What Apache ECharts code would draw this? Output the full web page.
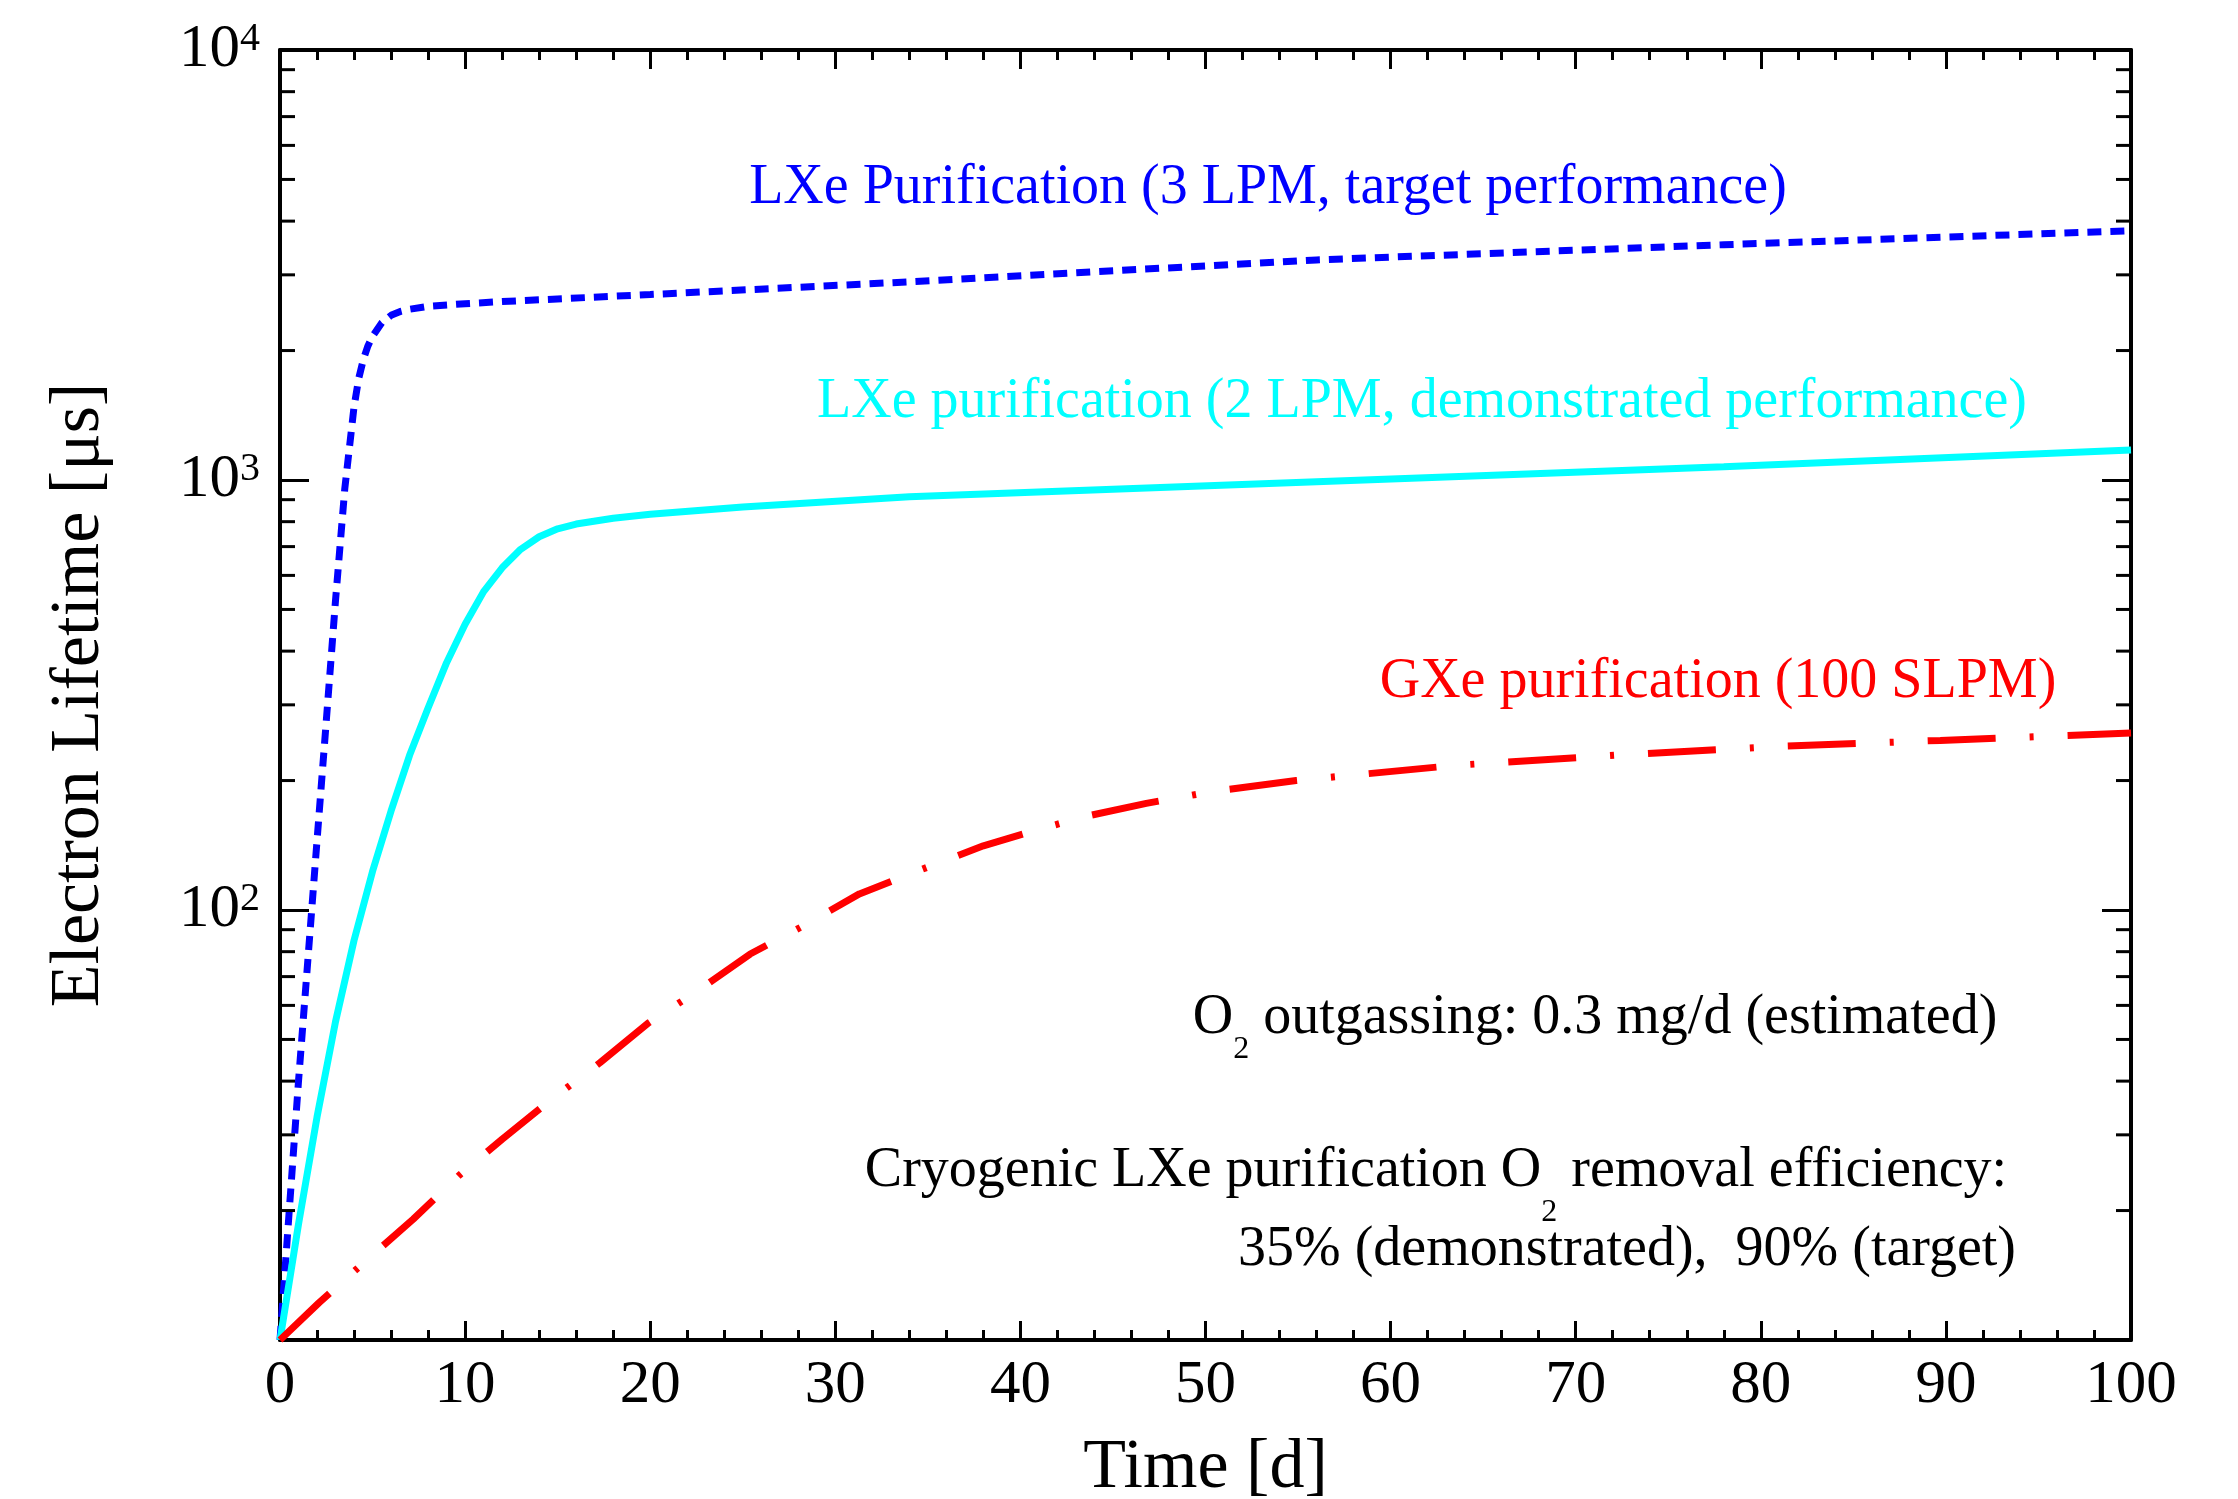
<!DOCTYPE html>
<html>
<head>
<meta charset="utf-8">
<script src="https://cdn.jsdelivr.net/npm/echarts@6/dist/echarts.min.js"></script>
<style>
html,body{margin:0;padding:0;background:#fff;}
#chart{width:2238px;height:1499px;}
</style>
</head>
<body>
<div id="chart"></div>
<script>
// ---- data ----
const timeTarget = [0, 0.5, 1, 1.5, 2, 2.5, 3, 3.5, 4, 4.25, 4.5, 4.75, 5, 5.5, 6, 6.5, 7, 8, 10, 12, 20, 34, 56, 78, 100];
const lifetimeTarget = [10, 20, 40, 76, 145, 275, 525, 955, 1480, 1720, 1905, 2050, 2160, 2320, 2415, 2465, 2495, 2535, 2570, 2600, 2700, 2890, 3250, 3525, 3800];

const timeDemo = [0, 1, 2, 3, 4, 5, 6, 7, 8, 9, 10, 11, 12, 13, 14, 15, 16, 18, 20, 25, 34, 56, 78, 100];
const lifetimeDemo = [10, 18.6, 33, 55, 85, 123, 170, 229, 295, 376, 462, 550, 625, 690, 738, 770, 790, 815, 832, 865, 914, 991, 1074, 1175];

const timeGXe = [0, 2.1, 4.8, 7.2, 9.7, 12, 14.6, 17.3, 19.9, 22.5, 25.4, 28.3, 31.3, 34.4, 38, 40.3, 43.5, 46.8, 50.5, 54.9, 63.5, 72.1, 80.9, 89.7, 100];
const lifetimeGXe = [10, 12.2, 15.5, 19.1, 24.2, 29.3, 36.1, 44.2, 54.6, 64.6, 79, 92, 109, 123, 141, 151, 165, 177, 189, 200, 217, 229, 240, 248, 258];

const xTickValues = [0, 10, 20, 30, 40, 50, 60, 70, 80, 90, 100];
const yMajorTicks = [10, 100, 1000, 10000];
const yMinorTicks = [20, 30, 40, 50, 60, 70, 80, 90, 200, 300, 400, 500, 600, 700, 800, 900, 2000, 3000, 4000, 5000, 6000, 7000, 8000, 9000];

const seriesNames = ['LXe Purification (3 LPM, target performance)',
                     'LXe purification (2 LPM, demonstrated performance)',
                     'GXe purification (100 SLPM)'];

const FF = '"Liberation Serif", "Times New Roman", serif';

function pairs(xs, ys) { return xs.map((x, i) => [x, ys[i]]); }

const chart = echarts.init(document.getElementById('chart'), null, {renderer: 'canvas'});

const axisLineStyle = {color: '#000', width: 4};
const xCommon = {
  type: 'value', min: xTickValues[0], max: xTickValues[xTickValues.length - 1], interval: 10,
  splitLine: {show: false},
  axisLine: {show: true, onZero: false, lineStyle: axisLineStyle},
  axisTick: {show: true, inside: true, length: 19, lineStyle: {color: '#000', width: 3}},
  minorTick: {show: true, splitNumber: 5, length: 10, lineStyle: {color: '#000', width: 3}},
  minorSplitLine: {show: false}
};
const yCommon = {
  type: 'log', logBase: 10, min: yMajorTicks[0], max: yMajorTicks[yMajorTicks.length - 1],
  splitLine: {show: false},
  axisLine: {show: true, onZero: false, lineStyle: axisLineStyle},
  axisTick: {show: true, inside: true, length: 29, lineStyle: {color: '#000', width: 3}},
  minorTick: {show: false}
};

const option = {
  animation: false,
  backgroundColor: '#fff',
  grid: {left: 280, right: 107, top: 50, bottom: 159, containLabel: false, outerBoundsMode: 'none'},
  xAxis: [
    Object.assign({}, xCommon, {
      position: 'bottom',
      name: 'Time [d]', nameLocation: 'middle', nameGap: 94,
      nameTextStyle: {fontFamily: FF, fontSize: 70, color: '#000'},
      axisLabel: {show: true, margin: 15, fontFamily: FF, fontSize: 61, color: '#000'}
    }),
    Object.assign({}, xCommon, {position: 'top', axisLabel: {show: false}})
  ],
  yAxis: [
    Object.assign({}, yCommon, {
      position: 'left',
      name: 'Electron Lifetime [μs]', nameLocation: 'middle', nameGap: 165,
      nameTextStyle: {fontFamily: FF, fontSize: 70, color: '#000'},
      axisLabel: {
        show: true, margin: 20, showMinLabel: false,
        formatter: function (v) { return '{b|10}{s|' + Math.round(Math.log10(v)) + '}'; },
        rich: {
          b: {fontFamily: FF, fontSize: 61, color: '#000', lineHeight: 61, verticalAlign: 'bottom'},
          s: {fontFamily: FF, fontSize: 40, color: '#000', lineHeight: 40, verticalAlign: 'top', padding: [0, 0, 38, 0]}
        }
      }
    }),
    Object.assign({}, yCommon, {position: 'right', axisLabel: {show: false}})
  ],
  series: [
    {
      name: seriesNames[0], type: 'line', xAxisIndex: 0, yAxisIndex: 0,
      data: pairs(timeTarget, lifetimeTarget),
      showSymbol: false, symbol: 'none', smooth: false,
      lineStyle: {color: '#0000ff', width: 7, type: [14, 9]}, z: 3
    },
    {
      name: seriesNames[1], type: 'line', xAxisIndex: 0, yAxisIndex: 0,
      data: pairs(timeDemo, lifetimeDemo),
      showSymbol: false, symbol: 'none', smooth: false,
      lineStyle: {color: '#00ffff', width: 7, type: 'solid'}, z: 3
    },
    {
      name: seriesNames[2], type: 'line', xAxisIndex: 0, yAxisIndex: 0,
      data: pairs(timeGXe, lifetimeGXe),
      showSymbol: false, symbol: 'none', smooth: false,
      lineStyle: {color: '#ff0000', width: 7, type: [68, 34, 4, 34]}, z: 3
    },
    {
      name: 'minorTicksY', type: 'custom', xAxisIndex: 0, yAxisIndex: 0, silent: true, z: 5,
      data: yMinorTicks.map(v => [xTickValues[0], v]),
      encode: {x: 0, y: 1},
      renderItem: function (params, api) {
        const v = api.value(1);
        const pL = api.coord([xTickValues[0], v]);
        const pR = api.coord([xTickValues[xTickValues.length - 1], v]);
        const st = {stroke: '#000', lineWidth: 3};
        return {type: 'group', children: [
          {type: 'line', shape: {x1: pL[0], y1: pL[1], x2: pL[0] + 15, y2: pL[1]}, style: st},
          {type: 'line', shape: {x1: pR[0] - 15, y1: pR[1], x2: pR[0], y2: pR[1]}, style: st}
        ]};
      }
    }
  ],
  graphic: [
    {type: 'text', x: 1268, y: 188, silent: true,
     style: {text: seriesNames[0], fill: '#0000ff', font: '56px ' + FF, align: 'center', verticalAlign: 'middle'}},
    {type: 'text', x: 1422, y: 402, silent: true,
     style: {text: seriesNames[1], fill: '#00ffff', font: '56px ' + FF, align: 'center', verticalAlign: 'middle'}},
    {type: 'text', x: 1718, y: 682, silent: true,
     style: {text: seriesNames[2], fill: '#ff0000', font: '56px ' + FF, align: 'center', verticalAlign: 'middle'}},
    {type: 'text', x: 1595, y: 990, silent: true,
     style: {text: '{m|O}{s|2}{m| outgassing: 0.3 mg/d (estimated)}', align: 'center', verticalAlign: 'top',
       rich: {
         m: {fontFamily: FF, fontSize: 56, fill: '#000', lineHeight: 56, verticalAlign: 'top'},
         s: {fontFamily: FF, fontSize: 32, fill: '#000', lineHeight: 32, verticalAlign: 'top', padding: [44, 0, 0, 0]}
       }}},
    {type: 'text', x: 1436, y: 1143, silent: true,
     style: {text: '{m|Cryogenic LXe purification O}{s|2}{m| removal efficiency:}', align: 'center', verticalAlign: 'top',
       rich: {
         m: {fontFamily: FF, fontSize: 56, fill: '#000', lineHeight: 56, verticalAlign: 'top'},
         s: {fontFamily: FF, fontSize: 32, fill: '#000', lineHeight: 32, verticalAlign: 'top', padding: [54, 0, 0, 0]}
       }}},
    {type: 'text', x: 1627, y: 1250, silent: true,
     style: {text: '35% (demonstrated),  90% (target)', fill: '#000', font: '56px ' + FF, align: 'center', verticalAlign: 'middle'}}
  ]
};

chart.setOption(option);
</script>
</body>
</html>
